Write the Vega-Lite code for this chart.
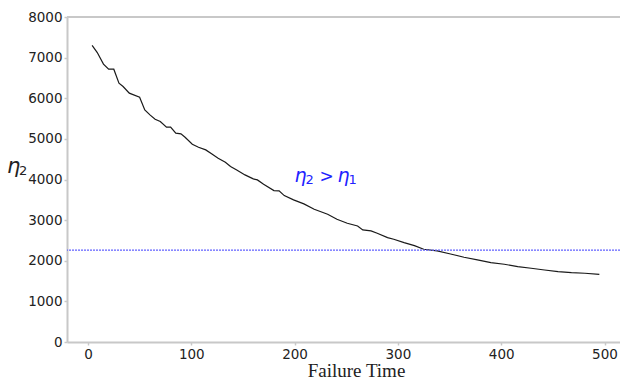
{
  "$schema": "https://vega.github.io/schema/vega-lite/v6.json",
  "autosize": {"type": "none"},
  "padding": {"left": 67, "top": 17, "right": 0, "bottom": 37},
  "width": 553,
  "height": 325,
  "background": "white",
  "config": {
    "view": {"stroke": null},
    "axis": {
      "grid": false,
      "domainColor": "#c8c8c8",
      "domainWidth": 2,
      "tickColor": "#c8c8c8",
      "tickWidth": 1.5,
      "tickSize": 3,
      "labelFont": "DejaVu Sans",
      "labelFontSize": 13.5,
      "labelColor": "#222222",
      "format": "d"
    }
  },
  "datasets": {
    "curve": [
      {"t": 4, "v": 7300}, {"t": 9, "v": 7125}, {"t": 15, "v": 6840}, {"t": 20, "v": 6715},
      {"t": 25, "v": 6715}, {"t": 30, "v": 6370}, {"t": 34, "v": 6290}, {"t": 40, "v": 6125},
      {"t": 50, "v": 6027}, {"t": 55, "v": 5714}, {"t": 60, "v": 5590}, {"t": 65, "v": 5485},
      {"t": 70, "v": 5426}, {"t": 76, "v": 5288}, {"t": 80, "v": 5288}, {"t": 85, "v": 5140},
      {"t": 90, "v": 5123}, {"t": 94, "v": 5041}, {"t": 101, "v": 4867}, {"t": 107, "v": 4795},
      {"t": 114, "v": 4729}, {"t": 120, "v": 4630}, {"t": 126, "v": 4524}, {"t": 133, "v": 4426},
      {"t": 138, "v": 4318}, {"t": 144, "v": 4236}, {"t": 152, "v": 4113}, {"t": 160, "v": 4015},
      {"t": 164, "v": 3990}, {"t": 170, "v": 3884}, {"t": 180, "v": 3727}, {"t": 185, "v": 3719},
      {"t": 190, "v": 3604}, {"t": 199, "v": 3498}, {"t": 209, "v": 3399}, {"t": 219, "v": 3268},
      {"t": 232, "v": 3145}, {"t": 241, "v": 3022}, {"t": 251, "v": 2924}, {"t": 261, "v": 2857},
      {"t": 266, "v": 2759}, {"t": 274, "v": 2734}, {"t": 280, "v": 2677}, {"t": 290, "v": 2569},
      {"t": 296, "v": 2529}, {"t": 306, "v": 2446}, {"t": 316, "v": 2372}, {"t": 325, "v": 2283},
      {"t": 338, "v": 2241}, {"t": 351, "v": 2167}, {"t": 364, "v": 2086}, {"t": 377, "v": 2020},
      {"t": 390, "v": 1953}, {"t": 403, "v": 1914}, {"t": 416, "v": 1855}, {"t": 429, "v": 1815},
      {"t": 442, "v": 1773}, {"t": 455, "v": 1732}, {"t": 468, "v": 1707}, {"t": 481, "v": 1692},
      {"t": 495, "v": 1667}
    ],
    "one": [{"k": 1}]
  },
  "layer": [
    {
      "data": {"name": "curve"},
      "mark": {"type": "line", "color": "#1a1a1a", "strokeWidth": 1.2},
      "encoding": {
        "x": {
          "field": "t", "type": "quantitative",
          "scale": {"domain": [-20.3, 515], "nice": false, "zero": false},
          "axis": {
            "values": [0, 100, 200, 300, 400, 500],
            "title": "Failure Time",
            "titleFont": "Liberation Serif",
            "titleFontSize": 19,
            "titleFontWeight": "normal",
            "titleColor": "#222222",
            "titleX": 289,
            "titleY": 34,
            "titleBaseline": "alphabetic",
            "labelPadding": 2
          }
        },
        "y": {
          "field": "v", "type": "quantitative",
          "scale": {"domain": [0, 8000], "nice": false},
          "axis": {
            "values": [0, 1000, 2000, 3000, 4000, 5000, 6000, 7000, 8000],
            "title": null,
            "labelPadding": 2
          }
        }
      }
    },
    {
      "data": {"name": "one"},
      "mark": {"type": "rule", "color": "#c8c8c8", "strokeWidth": 2},
      "encoding": {"y": {"datum": 8000, "type": "quantitative"}}
    },
    {
      "data": {"name": "one"},
      "mark": {"type": "rule", "color": "#6262ff", "strokeWidth": 1.1, "strokeDash": [2, 1]},
      "encoding": {"y": {"datum": 2262, "type": "quantitative"}}
    },
    {
      "data": {"name": "one"},
      "mark": {"type": "text", "color": "#2222ff", "font": "DejaVu Sans", "fontSize": 19, "fontStyle": "italic", "fontWeight": "normal", "align": "left", "baseline": "alphabetic", "text": "η"},
      "encoding": {"x": {"datum": 200, "type": "quantitative"}, "y": {"datum": 3950, "type": "quantitative"}}
    },
    {
      "data": {"name": "one"},
      "mark": {"type": "text", "color": "#2222ff", "font": "DejaVu Sans", "fontSize": 13, "fontWeight": "normal", "align": "left", "baseline": "alphabetic", "text": "2", "dx": 11, "dy": 2},
      "encoding": {"x": {"datum": 200, "type": "quantitative"}, "y": {"datum": 3950, "type": "quantitative"}}
    },
    {
      "data": {"name": "one"},
      "mark": {"type": "text", "color": "#2222ff", "font": "DejaVu Sans", "fontSize": 17, "fontWeight": "normal", "align": "left", "baseline": "alphabetic", "text": ">", "dx": 25},
      "encoding": {"x": {"datum": 200, "type": "quantitative"}, "y": {"datum": 3950, "type": "quantitative"}}
    },
    {
      "data": {"name": "one"},
      "mark": {"type": "text", "color": "#2222ff", "font": "DejaVu Sans", "fontSize": 19, "fontStyle": "italic", "fontWeight": "normal", "align": "left", "baseline": "alphabetic", "text": "η", "dx": 43},
      "encoding": {"x": {"datum": 200, "type": "quantitative"}, "y": {"datum": 3950, "type": "quantitative"}}
    },
    {
      "data": {"name": "one"},
      "mark": {"type": "text", "color": "#2222ff", "font": "DejaVu Sans", "fontSize": 13, "fontWeight": "normal", "align": "left", "baseline": "alphabetic", "text": "1", "dx": 54, "dy": 2},
      "encoding": {"x": {"datum": 200, "type": "quantitative"}, "y": {"datum": 3950, "type": "quantitative"}}
    },
    {
      "data": {"name": "one"},
      "mark": {"type": "text", "color": "#222222", "font": "DejaVu Sans", "fontSize": 21, "fontStyle": "italic", "fontWeight": "normal", "align": "left", "baseline": "alphabetic", "text": "η", "dx": -60},
      "encoding": {"x": {"datum": -20.3, "type": "quantitative"}, "y": {"datum": 4150, "type": "quantitative"}}
    },
    {
      "data": {"name": "one"},
      "mark": {"type": "text", "color": "#222222", "font": "DejaVu Sans", "fontSize": 13, "fontWeight": "normal", "align": "left", "baseline": "alphabetic", "text": "2", "dx": -48, "dy": 2},
      "encoding": {"x": {"datum": -20.3, "type": "quantitative"}, "y": {"datum": 4150, "type": "quantitative"}}
    }
  ]
}
